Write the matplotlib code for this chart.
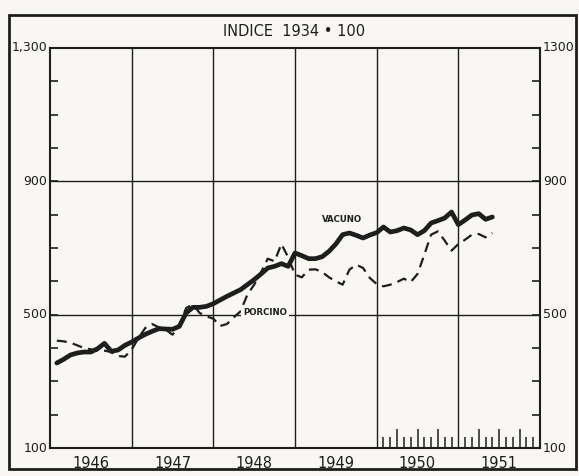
import matplotlib
matplotlib.use('Agg')
import matplotlib.pyplot as plt
from matplotlib.patches import Rectangle
import numpy as np

# month index counted from January 1946 (1 = Feb 1946 ... 65 = Jun 1951)
months = list(range(1, 66))
vacuno = [355, 366, 379, 385, 388, 388, 398, 414, 390, 394,
          408, 418, 430, 441, 450, 458, 457, 456, 465, 505,
          522, 522, 525, 533, 544, 555, 565, 575, 590, 605,
          622, 640, 645, 653, 645, 685, 677, 668, 668, 674,
          690, 712, 740, 745, 738, 730, 739, 746, 763, 748,
          752, 760, 754, 740, 752, 775, 782, 790, 808, 770,
          784, 799, 803, 786, 793]
porcino = [422, 420, 416, 408, 400, 396, 392, 392, 388, 376,
           374, 395, 430, 460, 472, 462, 455, 440, 465, 520,
           530, 505, 495, 488, 466, 472, 492, 510, 560, 590,
           627, 668, 660, 712, 672, 620, 612, 635, 636, 628,
           612, 600, 590, 635, 650, 640, 610, 592, 585, 590,
           598, 608, 598, 622, 680, 740, 750, 722, 692, 712,
           725, 740, 742, 732, 745]
years = ['1946', '1947', '1948', '1949', '1950', '1951']
y_values = [100, 500, 900, 1300]
left_labels = ['100', '500', '900', '1,300']
right_labels = ['100', '500', '900', '1300']
title = 'INDICE  1934 • 100'

ink = '#1e1e1e'
bg = '#f8f7f4'
W, H = 579, 476

fig = plt.figure(figsize=(W / 100, H / 100), dpi=100)
fig.patch.set_facecolor(bg)
ax = fig.add_axes([50 / W, 1 - 448 / H, 490 / W, 400 / H])
ax.set_facecolor(bg)

x = 1946 + np.array(months) / 12.0
ax.plot(x, vacuno, color=ink, lw=3.4, solid_capstyle='round',
        solid_joinstyle='round', zorder=4)
ax.plot(x, porcino, color=ink, lw=1.6, dashes=(4.5, 2.8), zorder=3)

ax.set_xlim(1946, 1952)
ax.set_ylim(100, 1300)

# grid
for yr in range(1947, 1952):
    ax.axvline(yr, color=ink, lw=1.0, zorder=1)
for v in (500, 900):
    ax.axhline(v, color=ink, lw=1.0, zorder=1)
for s in ax.spines.values():
    s.set_linewidth(1.5)
    s.set_color(ink)

# y ticks every 100, inward, both sides
ax.set_yticks(range(100, 1301, 100))
ax.set_yticklabels([])
ax.tick_params(axis='y', direction='in', length=6, width=1.2, color=ink,
               left=True, right=True)

# bottom monthly ticks in 1950-1951
tall = [1950 + k / 12 for k in (3, 6, 9)] + [1951 + k / 12 for k in (3, 6, 9)]
short = [1950 + k / 12 for k in (1, 2, 4, 5, 7, 8, 10, 11)] + \
        [1951 + k / 12 for k in (1, 2, 4, 5, 7, 8, 10, 11)]
ax.set_xticks(tall)
ax.set_xticks(short, minor=True)
ax.set_xticklabels([])
ax.tick_params(axis='x', which='major', direction='in', length=14, width=1.1, color=ink)
ax.tick_params(axis='x', which='minor', direction='in', length=8, width=1.1, color=ink)

ytr = ax.get_yaxis_transform()
for v, lab in zip(y_values, left_labels):
    ax.text(-0.006, v, lab, transform=ytr, ha='right', va='center',
            fontsize=9, color=ink)
for v, lab in zip(y_values, right_labels):
    ax.text(1.006, v, lab, transform=ytr, ha='left', va='center',
            fontsize=9, color=ink)

xtr = ax.get_xaxis_transform()
for i, yl in enumerate(years):
    ax.text(1946 + i + 0.5, -0.04, yl, transform=xtr, ha='center', va='center',
            fontsize=10.5, color=ink)

ax.text(1949.57, 784, 'VACUNO', ha='center', va='center', fontsize=6.2,
        fontweight='bold', color=ink, zorder=5)
ax.text(1948.63, 506, 'PORCINO', ha='center', va='center', fontsize=6.2,
        fontweight='bold', color=ink, zorder=5,
        bbox=dict(facecolor=bg, edgecolor='none', pad=1.5))

fig.text(294 / W, 1 - 32 / H, title, ha='center', va='center',
         fontsize=10.5, color=ink)

fig.patches.append(Rectangle((9 / W, 1 - 469 / H), (576 - 9) / W, (469 - 15) / H,
                             transform=fig.transFigure, fill=False,
                             edgecolor=ink, lw=2.0))

fig.savefig('out.png', dpi=100, facecolor=bg)
